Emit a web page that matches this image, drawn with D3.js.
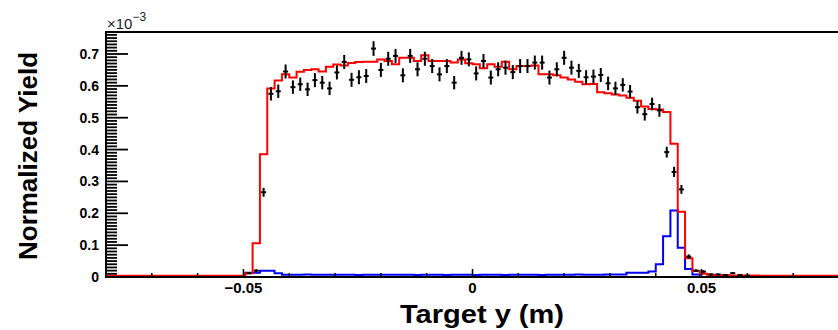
<!DOCTYPE html>
<html>
<head>
<meta charset="utf-8">
<script src="https://cdnjs.cloudflare.com/ajax/libs/d3/7.8.5/d3.min.js"></script>
<style>
  body { margin: 0; background: #fff; }
  svg { display: block; font-family: "Liberation Sans", Arial, sans-serif; }
</style>
</head>
<body>
<div id="chart"></div>
<script>
// target y histogram, 100 bins from -0.08 to 0.08 m, yields in units of 1e-3
var binLow = -0.08;
var binWidth = 0.0016;

// black points (data), null = empty bin
var dataYield = [
  null, null, null, null, null, null, null, null, null, null,
  null, null, null, null, null, null, null, null, null, 0.012,
  0.020, 0.266, 0.575, 0.583, 0.645, 0.596, 0.605, 0.589, 0.618, 0.610,
  0.592, 0.642, 0.675, 0.619, 0.627, 0.631, 0.717, 0.650, 0.685, 0.694,
  0.633, 0.694, 0.652, 0.685, 0.662, 0.636, 0.662, 0.610, 0.688, 0.683,
  0.639, 0.678, 0.626, 0.652, 0.657, 0.643, 0.662, 0.662, 0.673, 0.673,
  0.626, 0.652, 0.688, 0.657, 0.647, 0.627, 0.629, 0.634, 0.608, 0.592,
  0.603, 0.582, 0.533, 0.511, 0.543, 0.523, 0.392, 0.330, 0.275, 0.064,
  0.020, 0.017, 0.008, 0.008, 0.006, 0.012, 0.006, 0.004, null, null,
  null, null, null, null, null, null, null, null, null, null
];
var dataErr = [
  0, 0, 0, 0, 0, 0, 0, 0, 0, 0,
  0, 0, 0, 0, 0, 0, 0, 0, 0, 0.003,
  0.004, 0.014, 0.021, 0.021, 0.022, 0.021, 0.021, 0.021, 0.022, 0.021,
  0.021, 0.022, 0.022, 0.022, 0.022, 0.022, 0.023, 0.022, 0.022, 0.022,
  0.022, 0.022, 0.022, 0.022, 0.022, 0.022, 0.022, 0.021, 0.022, 0.022,
  0.022, 0.022, 0.022, 0.022, 0.022, 0.022, 0.022, 0.022, 0.022, 0.022,
  0.022, 0.022, 0.022, 0.022, 0.022, 0.022, 0.022, 0.022, 0.021, 0.021,
  0.021, 0.021, 0.020, 0.020, 0.020, 0.020, 0.017, 0.016, 0.014, 0.007,
  0.004, 0.004, 0.003, 0.003, 0.002, 0.003, 0.002, 0.002, 0, 0,
  0, 0, 0, 0, 0, 0, 0, 0, 0, 0
];

// red: simulation total
var simTotal = [
  0.004, 0.004, 0.004, 0.004, 0.004, 0.004, 0.004, 0.004, 0.004, 0.004,
  0.004, 0.004, 0.004, 0.004, 0.004, 0.004, 0.004, 0.004, 0.004, 0.012,
  0.106, 0.385, 0.592, 0.617, 0.636, 0.626, 0.644, 0.650, 0.652, 0.645,
  0.660, 0.667, 0.664, 0.672, 0.675, 0.676, 0.676, 0.683, 0.678, 0.668,
  0.688, 0.688, 0.678, 0.696, 0.678, 0.678, 0.678, 0.673, 0.683, 0.671,
  0.668, 0.655, 0.668, 0.660, 0.676, 0.652, 0.662, 0.662, 0.664, 0.636,
  0.636, 0.633, 0.626, 0.620, 0.613, 0.605, 0.606, 0.580, 0.577, 0.573,
  0.570, 0.563, 0.553, 0.535, 0.527, 0.526, 0.518, 0.418, 0.205, 0.059,
  0.019, 0.010, 0.007, 0.006, 0.006, 0.005, 0.005, 0.005, 0.005, 0.004,
  0.004, 0.004, 0.004, 0.004, 0.004, 0.004, 0.004, 0.004, 0.004, 0.004
];

// blue: background (end caps / window)
var simBkg = [
  0, 0, 0, 0, 0, 0, 0, 0, 0, 0,
  0, 0, 0, 0, 0, 0, 0, 0, 0, 0.013,
  0.013, 0.020, 0.020, 0.012, 0.007, 0.007, 0.007, 0.008, 0.007, 0.007,
  0.007, 0.007, 0.007, 0.007, 0.006, 0.007, 0.007, 0.007, 0.007, 0.007,
  0.007, 0.007, 0.006, 0.007, 0.007, 0.007, 0.006, 0.007, 0.007, 0.007,
  0.006, 0.007, 0.007, 0.007, 0.006, 0.007, 0.007, 0.007, 0.007, 0.006,
  0.007, 0.007, 0.007, 0.007, 0.008, 0.007, 0.007, 0.007, 0.008, 0.008,
  0.008, 0.013, 0.013, 0.013, 0.017, 0.040, 0.128, 0.209, 0.092, 0.025,
  0.008, 0, 0, 0, 0, 0, 0, 0, 0, 0,
  0, 0, 0, 0, 0, 0, 0, 0, 0, 0
];

var xMajorTicks = [-0.05, 0, 0.05];
var xMajorLabels = ["\u22120.05", "0", "0.05"];
var yMajorTicks = [0, 0.1, 0.2, 0.3, 0.4, 0.5, 0.6, 0.7];
var yMajorLabels = ["0", "0.1", "0.2", "0.3", "0.4", "0.5", "0.6", "0.7"];

var width = 838, height = 330;
var frame = { left: 106, top: 32, right: 839, bottom: 277 };

var x = d3.scaleLinear().domain([-0.08, 0.08]).range([frame.left, frame.right]);
var y = d3.scaleLinear().domain([0, 0.769]).range([frame.bottom, frame.top]);

var svg = d3.select("#chart")
  .append("svg")
  .attr("width", width)
  .attr("height", height);

function stepPoints(values) {
  var pts = values.map(function(v, i) { return [binLow + i * binWidth, v]; });
  pts.push([binLow + values.length * binWidth, values[values.length - 1]]);
  return pts;
}

var stepLine = d3.line()
  .x(function(d) { return x(d[0]); })
  .y(function(d) { return y(d[1]); })
  .curve(d3.curveStepAfter);

svg.append("path")
  .attr("d", stepLine(stepPoints(simBkg)))
  .attr("fill", "none")
  .attr("stroke", "#0000ff")
  .attr("stroke-width", 2);

svg.append("path")
  .attr("d", stepLine(stepPoints(simTotal)))
  .attr("fill", "none")
  .attr("stroke", "#ff0000")
  .attr("stroke-width", 2);

// data points with error bars
var pts = dataYield
  .map(function(v, i) { return { c: binLow + (i + 0.5) * binWidth, v: v, e: dataErr[i] }; })
  .filter(function(d) { return d.v != null; });

var pointG = svg.append("g").attr("stroke", "#000").attr("stroke-width", 2);
pointG.selectAll(".errV")
  .data(pts)
  .enter()
  .append("line")
  .attr("class", "errV")
  .attr("x1", (d)=>(x(d.c)))
  .attr("x2", (d)=>(x(d.c)))
  .attr("y1", (d)=>(y(d.v - d.e)))
  .attr("y2", (d)=>(y(d.v + d.e)));
pointG.selectAll(".errH")
  .data(pts)
  .enter()
  .append("line")
  .attr("class", "errH")
  .attr("x1", (d)=>(x(d.c) - 2.5))
  .attr("x2", (d)=>(x(d.c) + 2.5))
  .attr("y1", (d)=>(y(d.v)))
  .attr("y2", (d)=>(y(d.v)));

// frame and axes, ROOT style (ticks inside)
var axisG = svg.append("g").attr("stroke", "#000");

axisG.append("line")
  .attr("x1", frame.left).attr("x2", frame.right)
  .attr("y1", frame.top).attr("y2", frame.top)
  .attr("stroke-width", 2);
axisG.append("line")
  .attr("x1", frame.left).attr("x2", frame.right)
  .attr("y1", frame.bottom).attr("y2", frame.bottom)
  .attr("stroke-width", 2);
axisG.append("line")
  .attr("x1", frame.left).attr("x2", frame.left)
  .attr("y1", frame.top - 1).attr("y2", frame.bottom + 1)
  .attr("stroke-width", 2);

var yMinor = d3.range(0, 77).map(function(i) { return i / 100; });
axisG.selectAll(".yTick")
  .data(yMinor)
  .enter()
  .append("line")
  .attr("class", "yTick")
  .attr("x1", frame.left)
  .attr("x2", function(d, i) { return frame.left + (i % 10 == 0 ? 22 : 11); })
  .attr("y1", (d)=>(y(d)))
  .attr("y2", (d)=>(y(d)))
  .attr("stroke-width", 1.8);

var xMinor = d3.range(-8, 9).map(function(i) { return i / 100; });
axisG.selectAll(".xTick")
  .data(xMinor)
  .enter()
  .append("line")
  .attr("class", "xTick")
  .attr("x1", (d)=>(x(d)))
  .attr("x2", (d)=>(x(d)))
  .attr("y1", frame.bottom)
  .attr("y2", function(d, i) { return frame.bottom - ((i - 8) % 5 == 0 ? 8 : 4); })
  .attr("stroke-width", 1.5);

svg.selectAll(".yLabel")
  .data(yMajorTicks)
  .enter()
  .append("text")
  .attr("class", "yLabel")
  .attr("x", 99)
  .attr("y", (d)=>(y(d) + 5))
  .attr("text-anchor", "end")
  .attr("font-size", "14px")
  .attr("font-weight", "bold")
  .text((d,i)=>(yMajorLabels[i]));

svg.selectAll(".xLabel")
  .data(xMajorTicks)
  .enter()
  .append("text")
  .attr("class", "xLabel")
  .attr("x", (d)=>(x(d)))
  .attr("y", 292.5)
  .attr("text-anchor", "middle")
  .attr("font-size", "15px")
  .attr("font-weight", "bold")
  .text((d,i)=>(xMajorLabels[i]));

var expo = svg.append("text")
  .attr("x", 107)
  .attr("y", 29)
  .attr("font-size", "15px")
  .attr("fill", "#222");
expo.append("tspan").text("\u00d710");
expo.append("tspan").attr("dy", -8).attr("font-size", "12px").text("\u22123");

svg.append("text")
  .attr("x", 482)
  .attr("y", 323)
  .attr("text-anchor", "middle")
  .attr("font-size", "26px")
  .attr("font-weight", "bold")
  .attr("textLength", 164)
  .attr("lengthAdjust", "spacingAndGlyphs")
  .text("Target y (m)");

svg.append("text")
  .attr("transform", "translate(37,156) rotate(-90)")
  .attr("text-anchor", "middle")
  .attr("font-size", "26px")
  .attr("font-weight", "bold")
  .text("Normalized Yield");
</script>
</body>
</html>
